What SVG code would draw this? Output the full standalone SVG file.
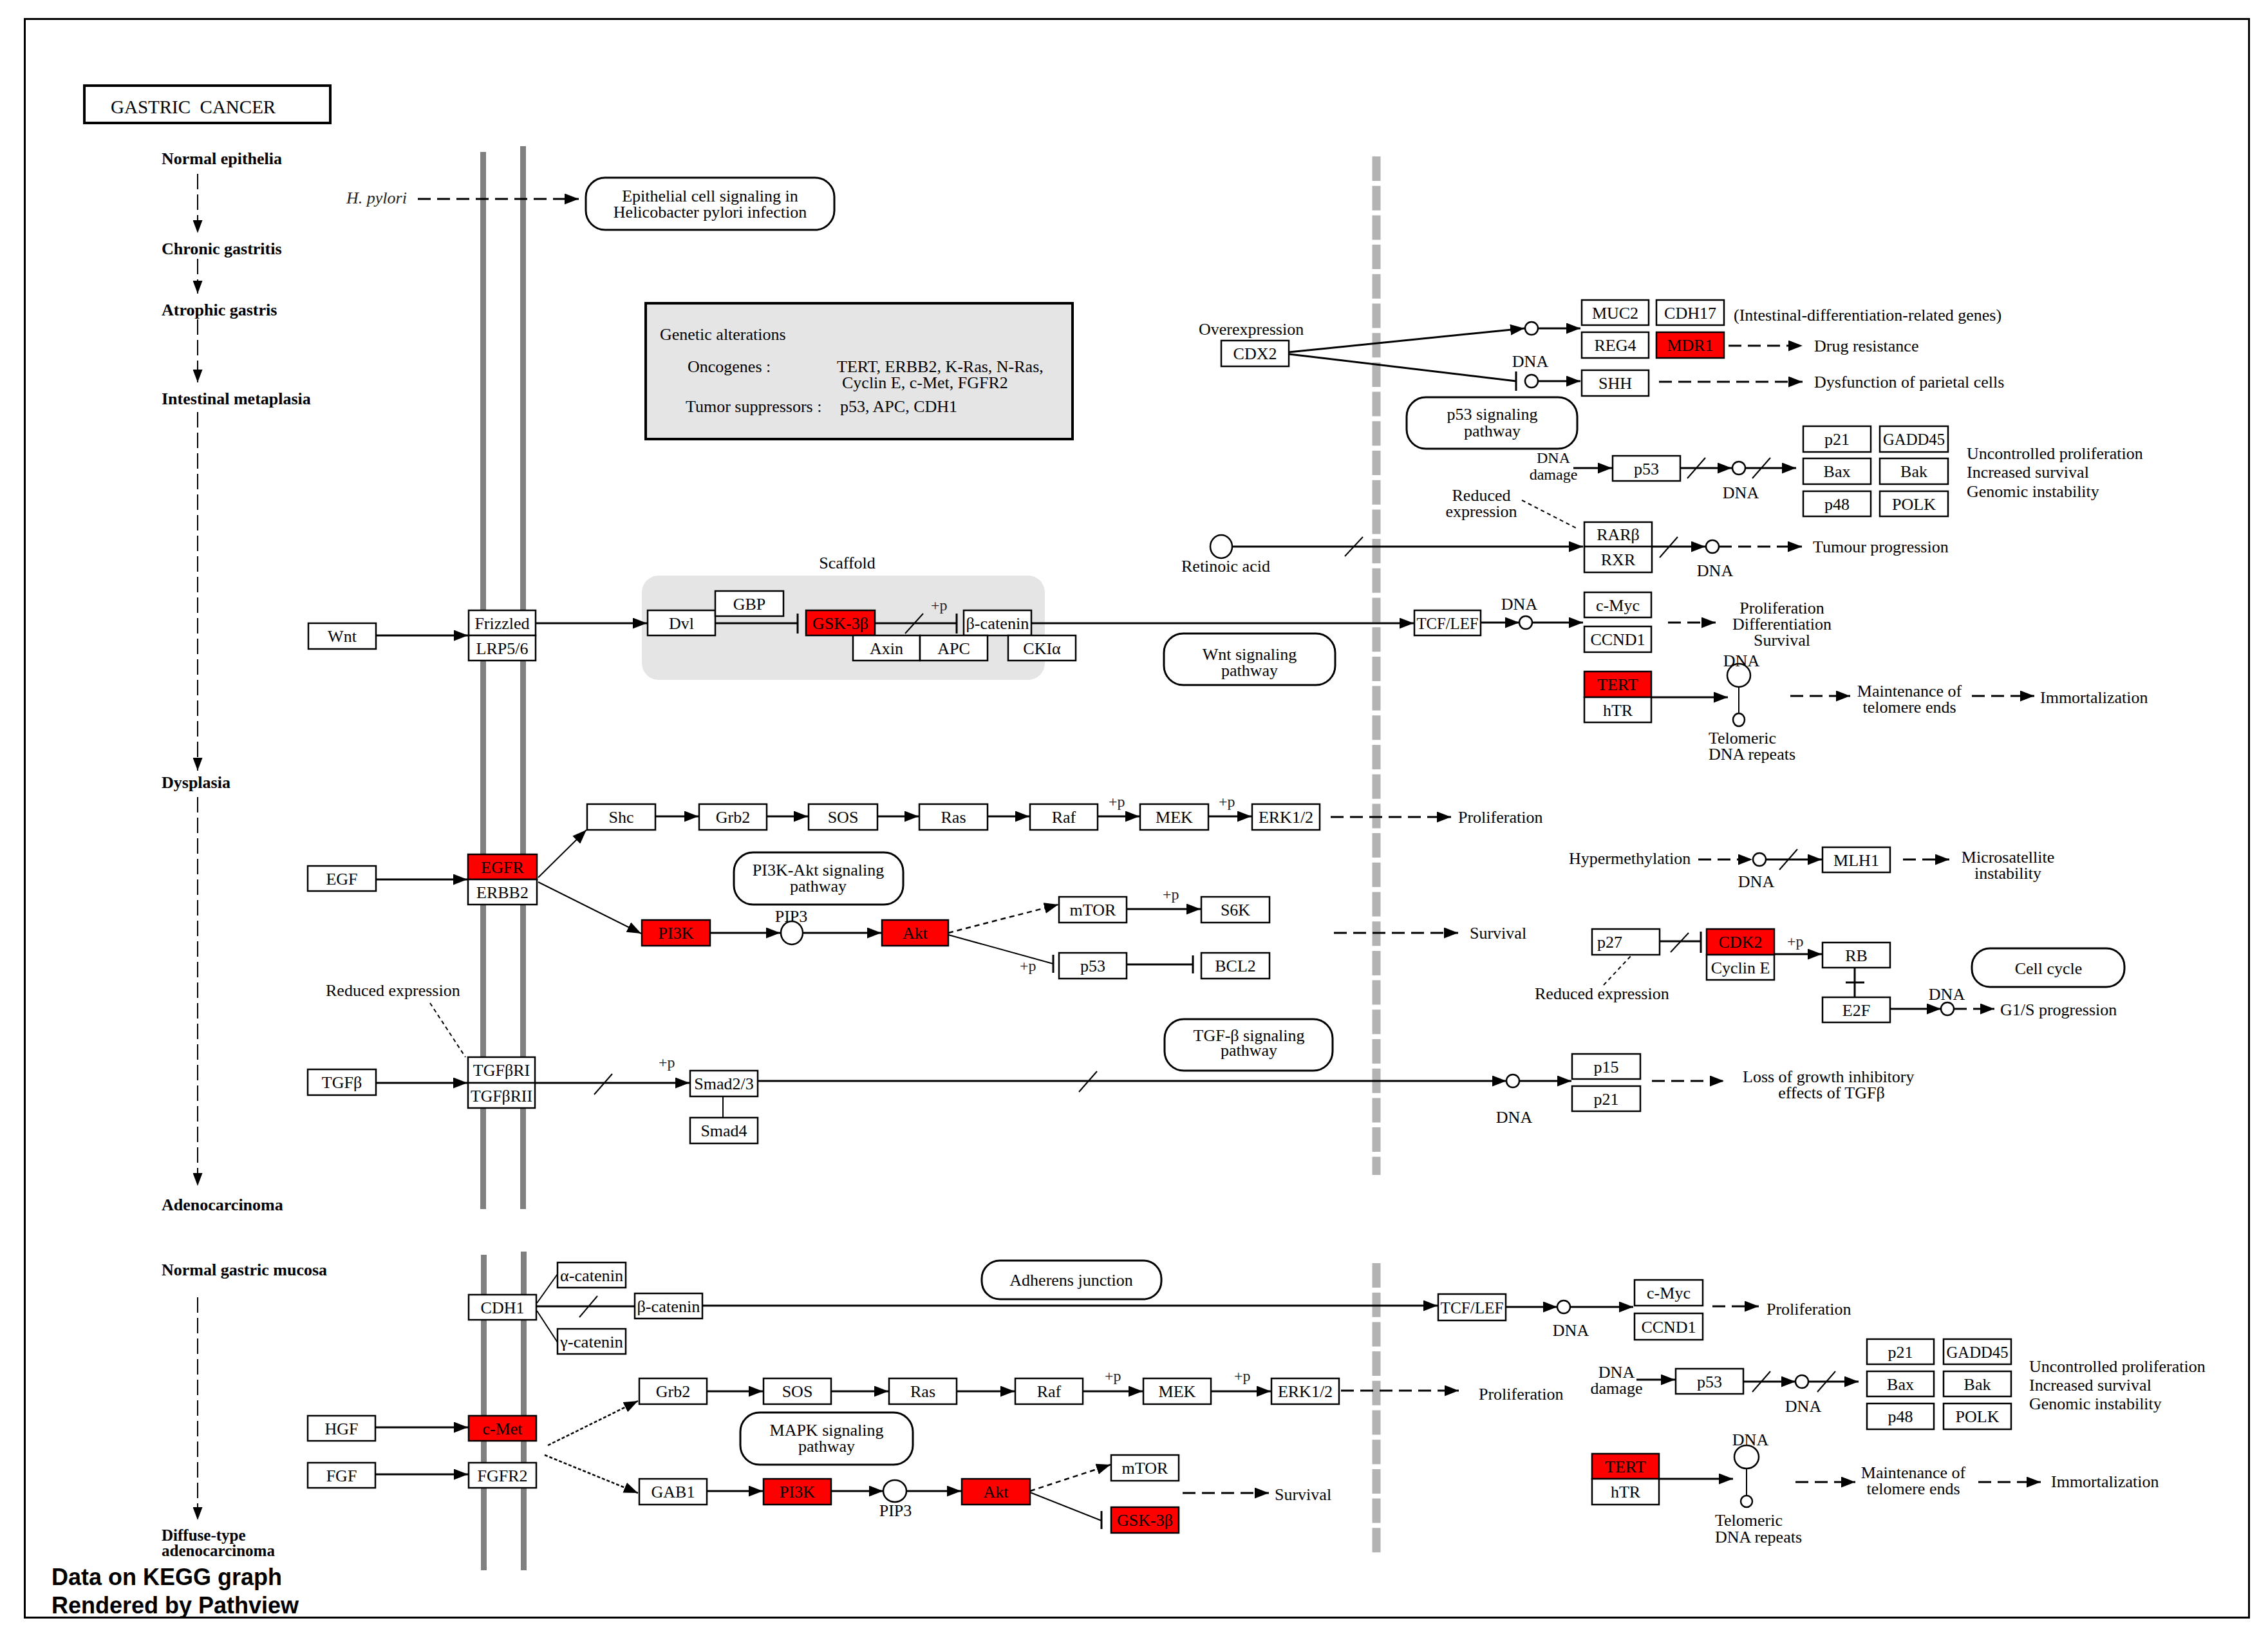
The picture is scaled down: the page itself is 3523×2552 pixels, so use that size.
<svg xmlns="http://www.w3.org/2000/svg" width="3523" height="2552" viewBox="0 0 3523 2552">
<style>
text{font-family:"Liberation Serif","Times New Roman",serif;font-size:26px;fill:#000}
.c{text-anchor:middle}
.b{font-weight:bold}
.n{fill:#fff;stroke:#000;stroke-width:2.5}
.r{fill:#f00;stroke:#000;stroke-width:2.5}
.pw{fill:#fff;stroke:#000;stroke-width:3}
.ln{fill:none;stroke:#000;stroke-width:3}
.lt{fill:none;stroke:#000;stroke-width:2}
.sl{fill:none;stroke:#000;stroke-width:2}
.da{fill:none;stroke:#000;stroke-width:3;stroke-dasharray:20 10}
.dd{fill:none;stroke:#000;stroke-width:2.5;stroke-dasharray:8 6}
.dt{fill:none;stroke:#000;stroke-width:2;stroke-dasharray:6 5}
.lc{fill:none;stroke:#000;stroke-width:2;stroke-dasharray:24 8}
.ci{fill:#fff;stroke:#000;stroke-width:2.5}
.mem{fill:#808080}
.nuc{stroke:#b3b3b3;stroke-width:13;stroke-dasharray:38 7.7;fill:none}
.pp{font-size:24px;fill:#222}
</style>
<defs>
<marker id="a" markerUnits="userSpaceOnUse" markerWidth="22" markerHeight="17" refX="22" refY="8.5" orient="auto"><path d="M0,0L22,8.5L0,17z" fill="#000"/></marker>
<marker id="s" markerUnits="userSpaceOnUse" markerWidth="20" markerHeight="15" refX="20" refY="7.5" orient="auto"><path d="M0,0L20,7.5L0,15z" fill="#000"/></marker>
</defs>
<rect x="0" y="0" width="3523" height="2552" fill="#fff"/>
<g id="frame"><rect x="38.5" y="29.5" width="3455" height="2483" fill="none" stroke="#000" stroke-width="3"/></g>
<g id="membranes">
<rect class="mem" x="746" y="236" width="9" height="1642"/>
<rect class="mem" x="808" y="227" width="9" height="1651"/>
<rect class="mem" x="747" y="1949" width="9" height="490"/>
<rect class="mem" x="809" y="1944" width="9" height="495"/>
<line class="nuc" x1="2138" y1="243" x2="2138" y2="1825"/>
<line class="nuc" x1="2138" y1="1962" x2="2138" y2="2415"/>
</g>
<g id="title"><rect x="131" y="133" width="382" height="58" fill="none" stroke="#000" stroke-width="4"/><text x="172" y="176" style="font-size:29px" xml:space="preserve">GASTRIC  CANCER</text></g>
<g id="scaffold"><rect x="997" y="894" width="626" height="162" rx="26" fill="#e5e5e5"/><text class="c" x="1316" y="883">Scaffold</text></g>
<g id="genetic-alterations">
<rect x="1003" y="471" width="663" height="211" fill="#e5e5e5" stroke="#000" stroke-width="4"/>
<text x="1025" y="528">Genetic alterations</text>
<text x="1068" y="578">Oncogenes :</text>
<text x="1300" y="578">TERT, ERBB2, K-Ras, N-Ras,</text>
<text x="1308" y="603">Cyclin E, c-Met, FGFR2</text>
<text x="1065" y="640">Tumor suppressors :</text>
<text x="1305" y="640">p53, APC, CDH1</text>
</g>
<g id="stages">
<text class="b" x="251" y="255">Normal epithelia</text>
<text class="b" x="251" y="395">Chronic gastritis</text>
<text class="b" x="251" y="490">Atrophic gastris</text>
<text class="b" x="251" y="628">Intestinal metaplasia</text>
<text class="b" x="251" y="1224">Dysplasia</text>
<text class="b" x="251" y="1880">Adenocarcinoma</text>
<text class="b" x="251" y="1981">Normal gastric mucosa</text>
<text class="b" x="251" y="2393" style="font-size:25px">Diffuse-type</text>
<text class="b" x="251" y="2417" style="font-size:25px">adenocarcinoma</text>
</g>
<g id="credit">
<text x="80" y="2462" style="font-family:'Liberation Sans',Arial,sans-serif;font-weight:bold;font-size:36px">Data on KEGG graph</text>
<text x="80" y="2506" style="font-family:'Liberation Sans',Arial,sans-serif;font-weight:bold;font-size:36px">Rendered by Pathview</text>
</g>
<g id="connectors">
<line class="lc" x1="307" y1="270" x2="307" y2="362" marker-end="url(#s)"/>
<line class="lc" x1="307" y1="402" x2="307" y2="456" marker-end="url(#s)"/>
<line class="lc" x1="307" y1="496" x2="307" y2="594" marker-end="url(#s)"/>
<line class="lc" x1="307" y1="640" x2="307" y2="1197" marker-end="url(#s)"/>
<line class="lc" x1="307" y1="1238" x2="307" y2="1842" marker-end="url(#s)"/>
<line class="lc" x1="307" y1="2015" x2="307" y2="2361" marker-end="url(#s)"/>
<line class="da" x1="649" y1="309" x2="899" y2="309" marker-end="url(#a)"/>
<line class="ln" x1="584" y1="987" x2="727" y2="987" marker-end="url(#a)"/>
<line class="ln" x1="832" y1="968" x2="1005" y2="968" marker-end="url(#a)"/>
<line class="ln" x1="1111" y1="968" x2="1239" y2="968"/>
<line class="ln" x1="1239" y1="953" x2="1239" y2="984"/>
<line class="ln" x1="1359" y1="968" x2="1486" y2="968"/>
<line class="ln" x1="1486" y1="953" x2="1486" y2="984"/>
<line class="sl" x1="1406" y1="984" x2="1434" y2="953"/>
<line class="ln" x1="1602" y1="968" x2="2196" y2="968" marker-end="url(#a)"/>
<line class="ln" x1="2300" y1="967" x2="2360" y2="967" marker-end="url(#a)"/>
<line class="ln" x1="2380" y1="967" x2="2459" y2="967" marker-end="url(#a)"/>
<line class="da" x1="2591" y1="967" x2="2665" y2="967" marker-end="url(#a)"/>
<line class="ln" x1="2565" y1="1083" x2="2684" y2="1083" marker-end="url(#a)"/>
<line class="lt" x1="2701" y1="1067" x2="2701" y2="1108"/>
<line class="da" x1="2781" y1="1081" x2="2874" y2="1081" marker-end="url(#a)"/>
<line class="da" x1="3063" y1="1081" x2="3160" y2="1081" marker-end="url(#a)"/>
<line class="ln" x1="2002" y1="547" x2="2368" y2="510" marker-end="url(#a)"/>
<line class="ln" x1="2389" y1="510" x2="2455" y2="510" marker-end="url(#a)"/>
<line class="ln" x1="2002" y1="550" x2="2355" y2="592"/>
<line class="ln" x1="2355" y1="577" x2="2355" y2="607"/>
<line class="ln" x1="2389" y1="592" x2="2455" y2="592" marker-end="url(#a)"/>
<line class="da" x1="2685" y1="537" x2="2800" y2="537" marker-end="url(#a)"/>
<line class="da" x1="2577" y1="593" x2="2800" y2="593" marker-end="url(#a)"/>
<line class="ln" x1="2444" y1="727" x2="2504" y2="727" marker-end="url(#a)"/>
<line class="ln" x1="2610" y1="727" x2="2690" y2="727" marker-end="url(#a)"/>
<line class="sl" x1="2621" y1="743" x2="2649" y2="711"/>
<line class="ln" x1="2711" y1="727" x2="2790" y2="727" marker-end="url(#a)"/>
<line class="sl" x1="2722" y1="743" x2="2750" y2="711"/>
<line class="ln" x1="1915" y1="849" x2="2459" y2="849" marker-end="url(#a)"/>
<line class="sl" x1="2089" y1="864" x2="2117" y2="834"/>
<line class="dt" x1="2364" y1="777" x2="2452" y2="822"/>
<line class="ln" x1="2566" y1="849" x2="2649" y2="849" marker-end="url(#a)"/>
<line class="sl" x1="2578" y1="866" x2="2606" y2="834"/>
<line class="da" x1="2670" y1="849" x2="2799" y2="849" marker-end="url(#a)"/>
<line class="ln" x1="584" y1="1366" x2="726" y2="1366" marker-end="url(#a)"/>
<line class="lt" x1="836" y1="1363" x2="911" y2="1289" marker-end="url(#a)"/>
<line class="lt" x1="836" y1="1370" x2="996" y2="1450" marker-end="url(#a)"/>
<line class="ln" x1="1018" y1="1268" x2="1085" y2="1268" marker-end="url(#a)"/>
<line class="ln" x1="1191" y1="1268" x2="1255" y2="1268" marker-end="url(#a)"/>
<line class="ln" x1="1363" y1="1268" x2="1427" y2="1268" marker-end="url(#a)"/>
<line class="ln" x1="1534" y1="1268" x2="1599" y2="1268" marker-end="url(#a)"/>
<line class="ln" x1="1705" y1="1268" x2="1770" y2="1268" marker-end="url(#a)"/>
<line class="ln" x1="1877" y1="1268" x2="1944" y2="1268" marker-end="url(#a)"/>
<line class="da" x1="2067" y1="1269" x2="2254" y2="1269" marker-end="url(#a)"/>
<line class="ln" x1="1103" y1="1449" x2="1212" y2="1449" marker-end="url(#a)"/>
<line class="ln" x1="1248" y1="1449" x2="1369" y2="1449" marker-end="url(#a)"/>
<line class="dd" x1="1473" y1="1449" x2="1644" y2="1405" marker-end="url(#a)"/>
<line class="lt" x1="1473" y1="1452" x2="1636" y2="1497"/>
<line class="ln" x1="1636" y1="1483" x2="1636" y2="1511"/>
<line class="ln" x1="1750" y1="1412" x2="1865" y2="1412" marker-end="url(#a)"/>
<line class="ln" x1="1750" y1="1498" x2="1853" y2="1498"/>
<line class="ln" x1="1853" y1="1484" x2="1853" y2="1512"/>
<line class="da" x1="2072" y1="1449" x2="2265" y2="1449" marker-end="url(#a)"/>
<line class="da" x1="2638" y1="1335" x2="2722" y2="1335" marker-end="url(#a)"/>
<line class="ln" x1="2743" y1="1335" x2="2830" y2="1335" marker-end="url(#a)"/>
<line class="sl" x1="2764" y1="1351" x2="2792" y2="1319"/>
<line class="da" x1="2956" y1="1335" x2="3028" y2="1335" marker-end="url(#a)"/>
<line class="ln" x1="2578" y1="1462" x2="2642" y2="1462"/>
<line class="ln" x1="2642" y1="1447" x2="2642" y2="1480"/>
<line class="sl" x1="2595" y1="1479" x2="2623" y2="1449"/>
<line class="dt" x1="2491" y1="1530" x2="2535" y2="1483"/>
<line class="ln" x1="2756" y1="1482" x2="2830" y2="1482" marker-end="url(#a)"/>
<line class="ln" x1="2881" y1="1503" x2="2881" y2="1549"/>
<line class="ln" x1="2867" y1="1526" x2="2896" y2="1526"/>
<line class="ln" x1="2936" y1="1567" x2="3015" y2="1567" marker-end="url(#a)"/>
<line class="da" x1="3035" y1="1567" x2="3098" y2="1567" marker-end="url(#a)"/>
<line class="ln" x1="584" y1="1682" x2="726" y2="1682" marker-end="url(#a)"/>
<line class="dt" x1="668" y1="1558" x2="723" y2="1642"/>
<line class="ln" x1="831" y1="1682" x2="1071" y2="1682" marker-end="url(#a)"/>
<line class="sl" x1="923" y1="1700" x2="951" y2="1668"/>
<line class="lt" x1="1123" y1="1703" x2="1123" y2="1736"/>
<line class="ln" x1="1177" y1="1679" x2="2340" y2="1679" marker-end="url(#a)"/>
<line class="sl" x1="1676" y1="1696" x2="1704" y2="1664"/>
<line class="ln" x1="2360" y1="1679" x2="2441" y2="1679" marker-end="url(#a)"/>
<line class="da" x1="2566" y1="1679" x2="2678" y2="1679" marker-end="url(#a)"/>
<line class="lt" x1="834" y1="2024" x2="866" y2="1979"/>
<line class="lt" x1="834" y1="2036" x2="868" y2="2088"/>
<line class="ln" x1="833" y1="2029" x2="986" y2="2029"/>
<line class="sl" x1="900" y1="2046" x2="928" y2="2013"/>
<line class="ln" x1="1091" y1="2028" x2="2233" y2="2028" marker-end="url(#a)"/>
<line class="ln" x1="2339" y1="2030" x2="2419" y2="2030" marker-end="url(#a)"/>
<line class="ln" x1="2439" y1="2030" x2="2537" y2="2030" marker-end="url(#a)"/>
<line class="da" x1="2660" y1="2029" x2="2732" y2="2029" marker-end="url(#a)"/>
<line class="ln" x1="583" y1="2217" x2="727" y2="2217" marker-end="url(#a)"/>
<line class="ln" x1="583" y1="2290" x2="727" y2="2290" marker-end="url(#a)"/>
<line class="dd" x1="851" y1="2245" x2="991" y2="2176" marker-end="url(#a)" style="stroke-dasharray:5 3"/>
<line class="dd" x1="846" y1="2260" x2="991" y2="2319" marker-end="url(#a)" style="stroke-dasharray:5 3"/>
<line class="ln" x1="1098" y1="2161" x2="1185" y2="2161" marker-end="url(#a)"/>
<line class="ln" x1="1291" y1="2161" x2="1380" y2="2161" marker-end="url(#a)"/>
<line class="ln" x1="1486" y1="2161" x2="1576" y2="2161" marker-end="url(#a)"/>
<line class="ln" x1="1682" y1="2161" x2="1775" y2="2161" marker-end="url(#a)"/>
<line class="ln" x1="1881" y1="2161" x2="1974" y2="2161" marker-end="url(#a)"/>
<line class="da" x1="2083" y1="2160" x2="2266" y2="2160" marker-end="url(#a)"/>
<line class="ln" x1="1098" y1="2316" x2="1185" y2="2316" marker-end="url(#a)"/>
<line class="ln" x1="1291" y1="2316" x2="1372" y2="2316" marker-end="url(#a)"/>
<line class="ln" x1="1408" y1="2316" x2="1493" y2="2316" marker-end="url(#a)"/>
<line class="dd" x1="1600" y1="2316" x2="1725" y2="2275" marker-end="url(#a)"/>
<line class="lt" x1="1600" y1="2318" x2="1711" y2="2362"/>
<line class="ln" x1="1711" y1="2347" x2="1711" y2="2375"/>
<line class="da" x1="1837" y1="2319" x2="1971" y2="2319" marker-end="url(#a)"/>
<line class="ln" x1="2542" y1="2143" x2="2602" y2="2143" marker-end="url(#a)"/>
<line class="ln" x1="2708" y1="2146" x2="2789" y2="2146" marker-end="url(#a)"/>
<line class="sl" x1="2722" y1="2162" x2="2750" y2="2130"/>
<line class="ln" x1="2809" y1="2146" x2="2887" y2="2146" marker-end="url(#a)"/>
<line class="sl" x1="2823" y1="2162" x2="2851" y2="2130"/>
<line class="ln" x1="2577" y1="2297" x2="2692" y2="2297" marker-end="url(#a)"/>
<line class="lt" x1="2713" y1="2281" x2="2713" y2="2323"/>
<line class="da" x1="2789" y1="2302" x2="2882" y2="2302" marker-end="url(#a)"/>
<line class="da" x1="3073" y1="2302" x2="3170" y2="2302" marker-end="url(#a)"/>
</g>
<g id="compounds">
<circle class="ci" cx="2370" cy="967" r="10"/>
<ellipse class="ci" cx="2701" cy="1049" rx="18" ry="18"/>
<ellipse class="ci" cx="2701" cy="1118" rx="9" ry="10"/>
<circle class="ci" cx="2379" cy="510" r="10"/>
<circle class="ci" cx="2379" cy="592" r="10"/>
<circle class="ci" cx="2701" cy="727" r="10"/>
<ellipse class="ci" cx="1897" cy="849" rx="17" ry="18"/>
<circle class="ci" cx="2660" cy="849" r="10"/>
<ellipse class="ci" cx="1230" cy="1449" rx="17" ry="18"/>
<circle class="ci" cx="2733" cy="1335" r="10"/>
<circle class="ci" cx="3025" cy="1567" r="10"/>
<circle class="ci" cx="2350" cy="1679" r="10"/>
<circle class="ci" cx="2429" cy="2030" r="10"/>
<ellipse class="ci" cx="1390" cy="2316" rx="18" ry="17"/>
<circle class="ci" cx="2799" cy="2146" r="10"/>
<ellipse class="ci" cx="2713" cy="2263" rx="19" ry="18"/>
<ellipse class="ci" cx="2713" cy="2332" rx="9" ry="9"/>
</g>
<g id="pathways">
<g id="pw-hpylori"><rect class="pw" x="910" y="276" width="386" height="81" rx="30"/><text class="c" x="1103" y="313">Epithelial cell signaling in</text><text class="c" x="1103" y="338">Helicobacter pylori infection</text></g>
<g id="pw-p53"><rect class="pw" x="2185" y="617" width="265" height="80" rx="30"/><text class="c" x="2318" y="652">p53 signaling</text><text class="c" x="2318" y="678">pathway</text></g>
<g id="pw-wnt"><rect class="pw" x="1808" y="984" width="266" height="80" rx="30"/><text class="c" x="1941" y="1025">Wnt signaling</text><text class="c" x="1941" y="1050">pathway</text></g>
<g id="pw-pi3k"><rect class="pw" x="1140" y="1324" width="263" height="81" rx="30"/><text class="c" x="1271" y="1360">PI3K-Akt signaling</text><text class="c" x="1271" y="1385">pathway</text></g>
<g id="pw-cellcycle"><rect class="pw" x="3063" y="1473" width="237" height="60" rx="28"/><text class="c" x="3182" y="1513">Cell cycle</text></g>
<g id="pw-tgf"><rect class="pw" x="1809" y="1583" width="261" height="80" rx="30"/><text class="c" x="1940" y="1617">TGF-β signaling</text><text class="c" x="1940" y="1640">pathway</text></g>
<g id="pw-adherens"><rect class="pw" x="1525" y="1958" width="279" height="60" rx="28"/><text class="c" x="1664" y="1997">Adherens junction</text></g>
<g id="pw-mapk"><rect class="pw" x="1150" y="2194" width="268" height="81" rx="30"/><text class="c" x="1284" y="2230">MAPK signaling</text><text class="c" x="1284" y="2255">pathway</text></g>
</g>
<g id="nodes">
<g id="n-wnt"><rect class="n" x="479" y="968" width="105" height="40"/><text class="c" x="531.5" y="997">Wnt</text></g>
<g id="n-frizzled"><rect class="n" x="728" y="948" width="104" height="39"/><text class="c" x="780" y="976.5">Frizzled</text></g>
<g id="n-lrp"><rect class="n" x="728" y="987" width="104" height="39"/><text class="c" x="780" y="1015.5">LRP5/6</text></g>
<g id="n-dvl"><rect class="n" x="1006" y="948" width="105" height="39"/><text class="c" x="1058.5" y="976.5">Dvl</text></g>
<g id="n-gbp"><rect class="n" x="1111" y="918" width="106" height="39"/><text class="c" x="1164" y="946.5">GBP</text></g>
<g id="n-gsk3b"><rect class="r" x="1252" y="948" width="107" height="39"/><text class="c" x="1305.5" y="976.5">GSK-3β</text></g>
<g id="n-bcat"><rect class="n" x="1497" y="948" width="105" height="39"/><text class="c" x="1549.5" y="976.5" textLength="98" lengthAdjust="spacingAndGlyphs">β-catenin</text></g>
<g id="n-axin"><rect class="n" x="1325" y="987" width="104" height="39"/><text class="c" x="1377" y="1015.5">Axin</text></g>
<g id="n-apc"><rect class="n" x="1429" y="987" width="105" height="39"/><text class="c" x="1481.5" y="1015.5">APC</text></g>
<g id="n-cki"><rect class="n" x="1566" y="987" width="105" height="39"/><text class="c" x="1618.5" y="1015.5">CKIα</text></g>
<g id="n-tcf1"><rect class="n" x="2197" y="948" width="103" height="39"/><text class="c" x="2248.5" y="976.5" textLength="96" lengthAdjust="spacingAndGlyphs">TCF/LEF</text></g>
<g id="n-myc1"><rect class="n" x="2461" y="920" width="104" height="39"/><text class="c" x="2513" y="948.5">c-Myc</text></g>
<g id="n-ccnd1"><rect class="n" x="2461" y="973" width="104" height="40"/><text class="c" x="2513" y="1002">CCND1</text></g>
<g id="n-tert1"><rect class="r" x="2461" y="1043" width="104" height="40"/><text class="c" x="2513" y="1072">TERT</text></g>
<g id="n-htr1"><rect class="n" x="2461" y="1083" width="104" height="39"/><text class="c" x="2513" y="1111.5">hTR</text></g>
<g id="n-cdx2"><rect class="n" x="1897" y="529" width="105" height="40"/><text class="c" x="1949.5" y="558">CDX2</text></g>
<g id="n-muc2"><rect class="n" x="2457" y="466" width="104" height="39"/><text class="c" x="2509" y="494.5">MUC2</text></g>
<g id="n-cdh17"><rect class="n" x="2573" y="466" width="105" height="39"/><text class="c" x="2625.5" y="494.5">CDH17</text></g>
<g id="n-reg4"><rect class="n" x="2457" y="516" width="104" height="40"/><text class="c" x="2509" y="545">REG4</text></g>
<g id="n-mdr1"><rect class="r" x="2573" y="516" width="105" height="40"/><text class="c" x="2625.5" y="545">MDR1</text></g>
<g id="n-shh"><rect class="n" x="2457" y="575" width="104" height="40"/><text class="c" x="2509" y="604">SHH</text></g>
<g id="n-p53a"><rect class="n" x="2505" y="708" width="105" height="39"/><text class="c" x="2557.5" y="736.5">p53</text></g>
<g id="n-p21a"><rect class="n" x="2801" y="662" width="105" height="40"/><text class="c" x="2853.5" y="691">p21</text></g>
<g id="n-gadd45a"><rect class="n" x="2920" y="662" width="106" height="40"/><text class="c" x="2973" y="691" textLength="96" lengthAdjust="spacingAndGlyphs">GADD45</text></g>
<g id="n-baxa"><rect class="n" x="2801" y="712" width="105" height="40"/><text class="c" x="2853.5" y="741">Bax</text></g>
<g id="n-baka"><rect class="n" x="2920" y="712" width="106" height="40"/><text class="c" x="2973" y="741">Bak</text></g>
<g id="n-p48a"><rect class="n" x="2801" y="763" width="105" height="39"/><text class="c" x="2853.5" y="791.5">p48</text></g>
<g id="n-polka"><rect class="n" x="2920" y="763" width="106" height="39"/><text class="c" x="2973" y="791.5">POLK</text></g>
<g id="n-rarb"><rect class="n" x="2461" y="811" width="105" height="38"/><text class="c" x="2513.5" y="839">RARβ</text></g>
<g id="n-rxr"><rect class="n" x="2461" y="849" width="105" height="40"/><text class="c" x="2513.5" y="878">RXR</text></g>
<g id="n-egf"><rect class="n" x="478" y="1345" width="106" height="39"/><text class="c" x="531" y="1373.5">EGF</text></g>
<g id="n-egfr"><rect class="r" x="727" y="1327" width="107" height="39"/><text class="c" x="780.5" y="1355.5">EGFR</text></g>
<g id="n-erbb2"><rect class="n" x="727" y="1366" width="107" height="39"/><text class="c" x="780.5" y="1394.5">ERBB2</text></g>
<g id="n-shc"><rect class="n" x="912" y="1249" width="106" height="40"/><text class="c" x="965" y="1278">Shc</text></g>
<g id="n-grb2a"><rect class="n" x="1086" y="1249" width="105" height="40"/><text class="c" x="1138.5" y="1278">Grb2</text></g>
<g id="n-sosa"><rect class="n" x="1256" y="1249" width="107" height="40"/><text class="c" x="1309.5" y="1278">SOS</text></g>
<g id="n-rasa"><rect class="n" x="1428" y="1249" width="106" height="40"/><text class="c" x="1481" y="1278">Ras</text></g>
<g id="n-rafa"><rect class="n" x="1600" y="1249" width="105" height="40"/><text class="c" x="1652.5" y="1278">Raf</text></g>
<g id="n-meka"><rect class="n" x="1771" y="1249" width="106" height="40"/><text class="c" x="1824" y="1278">MEK</text></g>
<g id="n-erka"><rect class="n" x="1945" y="1249" width="105" height="40"/><text class="c" x="1997.5" y="1278">ERK1/2</text></g>
<g id="n-pi3ka"><rect class="r" x="997" y="1429" width="106" height="40"/><text class="c" x="1050" y="1458">PI3K</text></g>
<g id="n-akta"><rect class="r" x="1370" y="1429" width="103" height="40"/><text class="c" x="1421.5" y="1458">Akt</text></g>
<g id="n-mtora"><rect class="n" x="1645" y="1393" width="105" height="40"/><text class="c" x="1697.5" y="1422">mTOR</text></g>
<g id="n-s6k"><rect class="n" x="1866" y="1393" width="106" height="40"/><text class="c" x="1919" y="1422">S6K</text></g>
<g id="n-p53b"><rect class="n" x="1645" y="1480" width="105" height="40"/><text class="c" x="1697.5" y="1509">p53</text></g>
<g id="n-bcl2"><rect class="n" x="1866" y="1480" width="106" height="40"/><text class="c" x="1919" y="1509">BCL2</text></g>
<g id="n-mlh1"><rect class="n" x="2831" y="1316" width="105" height="39"/><text class="c" x="2883.5" y="1344.5">MLH1</text></g>
<g id="n-p27"><rect class="n" x="2473" y="1443" width="105" height="40"/><text x="2481" y="1472">p27</text></g>
<g id="n-cdk2"><rect class="r" x="2651" y="1443" width="105" height="40"/><text class="c" x="2703.5" y="1472">CDK2</text></g>
<g id="n-cycline"><rect class="n" x="2651" y="1483" width="105" height="39"/><text class="c" x="2703.5" y="1511.5">Cyclin E</text></g>
<g id="n-rb"><rect class="n" x="2831" y="1464" width="105" height="39"/><text class="c" x="2883.5" y="1492.5">RB</text></g>
<g id="n-e2f"><rect class="n" x="2831" y="1549" width="105" height="39"/><text class="c" x="2883.5" y="1577.5">E2F</text></g>
<g id="n-tgfb"><rect class="n" x="478" y="1661" width="106" height="40"/><text class="c" x="531" y="1690">TGFβ</text></g>
<g id="n-tgfbr1"><rect class="n" x="727" y="1642" width="104" height="40"/><text class="c" x="779" y="1671">TGFβRI</text></g>
<g id="n-tgfbr2"><rect class="n" x="727" y="1682" width="104" height="39"/><text class="c" x="779" y="1710.5" textLength="96" lengthAdjust="spacingAndGlyphs">TGFβRII</text></g>
<g id="n-smad23"><rect class="n" x="1072" y="1663" width="105" height="40"/><text class="c" x="1124.5" y="1692">Smad2/3</text></g>
<g id="n-smad4"><rect class="n" x="1072" y="1736" width="105" height="40"/><text class="c" x="1124.5" y="1765">Smad4</text></g>
<g id="n-p15"><rect class="n" x="2442" y="1637" width="106" height="39"/><text class="c" x="2495" y="1665.5">p15</text></g>
<g id="n-p21b"><rect class="n" x="2442" y="1687" width="106" height="39"/><text class="c" x="2495" y="1715.5">p21</text></g>
<g id="n-cdh1"><rect class="n" x="728" y="2011" width="105" height="39"/><text class="c" x="780.5" y="2039.5">CDH1</text></g>
<g id="n-acat"><rect class="n" x="866" y="1961" width="106" height="39"/><text class="c" x="919" y="1989.5" textLength="98" lengthAdjust="spacingAndGlyphs">α-catenin</text></g>
<g id="n-bcat2"><rect class="n" x="986" y="2009" width="105" height="39"/><text class="c" x="1038.5" y="2037.5" textLength="98" lengthAdjust="spacingAndGlyphs">β-catenin</text></g>
<g id="n-gcat"><rect class="n" x="866" y="2064" width="106" height="39"/><text class="c" x="919" y="2092.5" textLength="98" lengthAdjust="spacingAndGlyphs">γ-catenin</text></g>
<g id="n-tcf2"><rect class="n" x="2234" y="2010" width="105" height="41"/><text class="c" x="2286.5" y="2039.5" textLength="98" lengthAdjust="spacingAndGlyphs">TCF/LEF</text></g>
<g id="n-myc2"><rect class="n" x="2539" y="1988" width="106" height="40"/><text class="c" x="2592" y="2017">c-Myc</text></g>
<g id="n-ccnd2"><rect class="n" x="2539" y="2040" width="106" height="41"/><text class="c" x="2592" y="2069.5">CCND1</text></g>
<g id="n-hgf"><rect class="n" x="478" y="2199" width="105" height="39"/><text class="c" x="530.5" y="2227.5">HGF</text></g>
<g id="n-cmet"><rect class="r" x="728" y="2199" width="105" height="39"/><text class="c" x="780.5" y="2227.5">c-Met</text></g>
<g id="n-fgf"><rect class="n" x="478" y="2272" width="105" height="39"/><text class="c" x="530.5" y="2300.5">FGF</text></g>
<g id="n-fgfr2"><rect class="n" x="728" y="2272" width="105" height="39"/><text class="c" x="780.5" y="2300.5">FGFR2</text></g>
<g id="n-grb2b"><rect class="n" x="993" y="2141" width="105" height="40"/><text class="c" x="1045.5" y="2170">Grb2</text></g>
<g id="n-gab1"><rect class="n" x="993" y="2297" width="105" height="40"/><text class="c" x="1045.5" y="2326">GAB1</text></g>
<g id="n-sosb"><rect class="n" x="1186" y="2141" width="105" height="40"/><text class="c" x="1238.5" y="2170">SOS</text></g>
<g id="n-rasb"><rect class="n" x="1381" y="2141" width="105" height="40"/><text class="c" x="1433.5" y="2170">Ras</text></g>
<g id="n-rafb"><rect class="n" x="1577" y="2141" width="105" height="40"/><text class="c" x="1629.5" y="2170">Raf</text></g>
<g id="n-mekb"><rect class="n" x="1776" y="2141" width="105" height="40"/><text class="c" x="1828.5" y="2170">MEK</text></g>
<g id="n-erkb"><rect class="n" x="1975" y="2141" width="105" height="40"/><text class="c" x="2027.5" y="2170">ERK1/2</text></g>
<g id="n-pi3kb"><rect class="r" x="1186" y="2297" width="105" height="40"/><text class="c" x="1238.5" y="2326">PI3K</text></g>
<g id="n-aktb"><rect class="r" x="1494" y="2297" width="106" height="40"/><text class="c" x="1547" y="2326">Akt</text></g>
<g id="n-mtorb"><rect class="n" x="1726" y="2260" width="105" height="40"/><text class="c" x="1778.5" y="2289">mTOR</text></g>
<g id="n-gsk3b2"><rect class="r" x="1726" y="2341" width="105" height="40"/><text class="c" x="1778.5" y="2370">GSK-3β</text></g>
<g id="n-p53c"><rect class="n" x="2603" y="2126" width="105" height="39"/><text class="c" x="2655.5" y="2154.5">p53</text></g>
<g id="n-p21c"><rect class="n" x="2900" y="2080" width="104" height="39"/><text class="c" x="2952" y="2108.5">p21</text></g>
<g id="n-gadd45c"><rect class="n" x="3019" y="2080" width="105" height="39"/><text class="c" x="3071.5" y="2108.5" textLength="96" lengthAdjust="spacingAndGlyphs">GADD45</text></g>
<g id="n-baxc"><rect class="n" x="2900" y="2130" width="104" height="39"/><text class="c" x="2952" y="2158.5">Bax</text></g>
<g id="n-bakc"><rect class="n" x="3019" y="2130" width="105" height="39"/><text class="c" x="3071.5" y="2158.5">Bak</text></g>
<g id="n-p48c"><rect class="n" x="2900" y="2180" width="104" height="40"/><text class="c" x="2952" y="2209">p48</text></g>
<g id="n-polkc"><rect class="n" x="3019" y="2180" width="105" height="40"/><text class="c" x="3071.5" y="2209">POLK</text></g>
<g id="n-tert2"><rect class="r" x="2473" y="2258" width="104" height="39"/><text class="c" x="2525" y="2286.5">TERT</text></g>
<g id="n-htr2"><rect class="n" x="2473" y="2297" width="104" height="40"/><text class="c" x="2525" y="2326">hTR</text></g>
</g>
<g id="labels">
<text x="538" y="316" style="font-style:italic;fill:#222">H. pylori</text>
<text class="pp" x="1446" y="948">+p</text>
<text class="pp" x="1722" y="1253">+p</text>
<text class="pp" x="1893" y="1253">+p</text>
<text class="pp" x="1806" y="1397">+p</text>
<text class="pp" x="1584" y="1508">+p</text>
<text class="pp" x="1023" y="1658">+p</text>
<text class="pp" x="2776" y="1470">+p</text>
<text class="pp" x="1716" y="2145">+p</text>
<text class="pp" x="1917" y="2145">+p</text>
<text x="1862" y="520">Overexpression</text>
<text class="c" x="2377" y="570">DNA</text>
<text x="2693" y="498">(Intestinal-differentiation-related genes)</text>
<text x="2818" y="546">Drug resistance</text>
<text x="2818" y="602">Dysfunction of parietal cells</text>
<text class="c" x="2413" y="719" style="font-size:24px">DNA</text>
<text class="c" x="2413" y="745" style="font-size:24px">damage</text>
<text class="c" x="2704" y="774">DNA</text>
<text x="3055" y="713">Uncontrolled proliferation</text>
<text x="3055" y="742">Increased survival</text>
<text x="3055" y="772">Genomic instability</text>
<text class="c" x="2301" y="778">Reduced</text>
<text class="c" x="2301" y="803">expression</text>
<text x="2816" y="858">Tumour progression</text>
<text class="c" x="2664" y="895">DNA</text>
<text x="1835" y="888">Retinoic acid</text>
<text class="c" x="2360" y="947">DNA</text>
<text class="c" x="2768" y="953">Proliferation</text>
<text class="c" x="2768" y="978">Differentiation</text>
<text class="c" x="2768" y="1003">Survival</text>
<text class="c" x="2705" y="1035">DNA</text>
<text class="c" x="2966" y="1082">Maintenance of</text>
<text class="c" x="2966" y="1107">telomere ends</text>
<text x="3169" y="1092">Immortalization</text>
<text x="2654" y="1155">Telomeric</text>
<text x="2654" y="1180">DNA repeats</text>
<text x="2265" y="1278">Proliferation</text>
<text class="c" x="1229" y="1432">PIP3</text>
<text x="2283" y="1458">Survival</text>
<text x="2437" y="1342">Hypermethylation</text>
<text class="c" x="2728" y="1378">DNA</text>
<text class="c" x="3119" y="1340">Microsatellite</text>
<text class="c" x="3119" y="1365">instability</text>
<text x="2384" y="1552">Reduced expression</text>
<text class="c" x="3024" y="1553">DNA</text>
<text x="3107" y="1577">G1/S progression</text>
<text x="506" y="1547">Reduced expression</text>
<text class="c" x="2352" y="1744">DNA</text>
<text x="2707" y="1681">Loss of growth inhibitory</text>
<text class="c" x="2845" y="1706">effects of TGFβ</text>
<text class="c" x="2440" y="2075">DNA</text>
<text x="2744" y="2042">Proliferation</text>
<text x="2297" y="2174">Proliferation</text>
<text class="c" x="1391" y="2355">PIP3</text>
<text x="1980" y="2330">Survival</text>
<text class="c" x="2511" y="2140">DNA</text>
<text class="c" x="2511" y="2165">damage</text>
<text class="c" x="2801" y="2193">DNA</text>
<text x="3152" y="2131">Uncontrolled proliferation</text>
<text x="3152" y="2160">Increased survival</text>
<text x="3152" y="2189">Genomic instability</text>
<text class="c" x="2719" y="2245">DNA</text>
<text class="c" x="2972" y="2296">Maintenance of</text>
<text class="c" x="2972" y="2321">telomere ends</text>
<text x="3186" y="2310">Immortalization</text>
<text x="2664" y="2370">Telomeric</text>
<text x="2664" y="2396">DNA repeats</text>
</g>
</svg>
